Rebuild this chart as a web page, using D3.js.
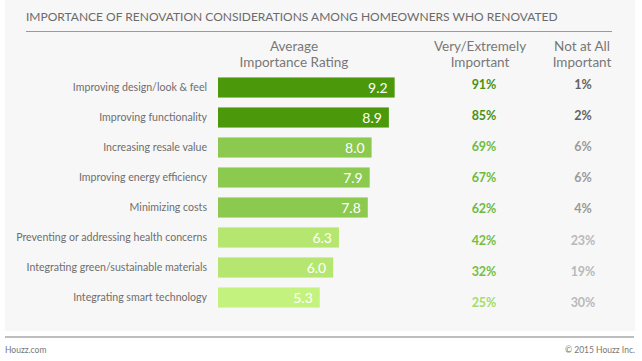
<!DOCTYPE html>
<html>
<head>
<meta charset="utf-8">
<script src="https://cdn.jsdelivr.net/npm/d3@7"></script>
<style>
  body { margin: 0; background: #fff; }
  svg { display: block; font-family: Lato, 'Open Sans', sans-serif; }
</style>
</head>
<body>
<div id="app"></div>
<script>
// data
const categories = [
  'Improving design/look & feel',
  'Improving functionality',
  'Increasing resale value',
  'Improving energy efficiency',
  'Minimizing costs',
  'Preventing or addressing health concerns',
  'Integrating green/sustainable materials',
  'Integrating smart technology',
];
const ratings = [9.2, 8.9, 8.0, 7.9, 7.8, 6.3, 6.0, 5.3];
const veryImportant = [91, 85, 69, 67, 62, 42, 32, 25];
const notImportant = [1, 2, 6, 6, 4, 23, 19, 30];

const title = 'IMPORTANCE OF RENOVATION CONSIDERATIONS AMONG HOMEOWNERS WHO RENOVATED';
const headers = [
  ['Average', 'Importance Rating'],
  ['Very/Extremely', 'Important'],
  ['Not at All', 'Important'],
];

const data = categories.map((c, i) => ({
  category: c,
  rating: ratings[i],
  very: veryImportant[i],
  not: notImportant[i],
}));

// canvas
const width = 642;
const height = 361;

const svg = d3.select('#app')
  .append('svg')
  .attr('width', width)
  .attr('height', height);

svg.append('rect')
  .attr('x', 5).attr('y', 0)
  .attr('width', 630).attr('height', 331)
  .attr('fill', '#f7f7f7');

// title
svg.append('text')
  .attr('x', 26).attr('y', 21)
  .attr('fill', '#6b6b6b')
  .style('font-size', '12px')
  .text(title);

svg.append('line')
  .attr('x1', 26).attr('x2', 612)
  .attr('y1', 31.5).attr('y2', 31.5)
  .attr('stroke', '#9a9a9a').attr('stroke-width', 1.2);

// scales
const xScale = d3.scaleLinear().domain([0, 10]).range([218, 410]);
const yScale = d3.scaleBand()
  .domain(categories)
  .range([72.5, 312.5])
  .paddingInner(0.33)
  .paddingOuter(0.165);
// the percentage columns drift slightly from the bar rows
const pctY = d3.scalePoint().domain(categories).range([84, 302.5]);
const colX = [294, 480, 582];

const barColor = d3.scaleThreshold()
  .domain([5.5, 7, 8.5])
  .range(['#c3f37e', '#b5e66f', '#8bc94f', '#4b990b']);
const veryColor = d3.scaleThreshold()
  .domain([30, 50, 80])
  .range(['#a3dd68', '#72c043', '#6cbb3e', '#4b9014']);
const notColor = d3.scaleThreshold()
  .domain([3, 10])
  .range(['#636363', '#9a9a9a', '#b9b9b9']);

// headers
headers.forEach((lines, i) => {
  const t = svg.append('text')
    .attr('text-anchor', 'middle')
    .attr('fill', '#777')
    .style('font-size', '13.5px');
  lines.forEach((l, j) => {
    t.append('tspan')
      .attr('x', colX[i])
      .attr('y', 51 + j * 15.5)
      .text(l);
  });
});

// category labels
svg.append('g')
  .selectAll('text')
  .data(data)
  .join('text')
  .attr('x', 207)
  .attr('y', (d) => yScale(d.category) + yScale.bandwidth() / 2)
  .attr('dy', '0.35em')
  .attr('text-anchor', 'end')
  .attr('fill', '#6e6e6e')
  .style('font-size', '10.6px')
  .text((d) => d.category);

// bars
const bars = svg.append('g');
bars.selectAll('rect')
  .data(data)
  .join('rect')
  .attr('x', xScale(0))
  .attr('y', (d) => yScale(d.category))
  .attr('width', (d) => xScale(d.rating) - xScale(0))
  .attr('height', yScale.bandwidth())
  .attr('fill', (d) => barColor(d.rating));

bars.selectAll('text')
  .data(data)
  .join('text')
  .attr('x', (d) => xScale(d.rating) - 7)
  .attr('y', (d) => yScale(d.category) + yScale.bandwidth() / 2)
  .attr('dy', '0.36em')
  .attr('text-anchor', 'end')
  .attr('fill', '#fff')
  .style('font-size', '14px')
  .text((d) => d3.format('.1f')(d.rating));

// percentage columns
svg.append('g')
  .selectAll('text')
  .data(data)
  .join('text')
  .attr('x', colX[1] + 4)
  .attr('y', (d) => pctY(d.category))
  .attr('dy', '0.36em')
  .attr('text-anchor', 'middle')
  .attr('fill', (d) => veryColor(d.very))
  .style('font-size', '12.5px')
  .style('font-weight', 'bold')
  .text((d) => `${d.very}%`);

svg.append('g')
  .selectAll('text')
  .data(data)
  .join('text')
  .attr('x', colX[2] + 1)
  .attr('y', (d) => pctY(d.category))
  .attr('dy', '0.36em')
  .attr('text-anchor', 'middle')
  .attr('fill', (d) => notColor(d.not))
  .style('font-size', '12.5px')
  .style('font-weight', 'bold')
  .text((d) => `${d.not}%`);

// footer
svg.append('line')
  .attr('x1', 5).attr('x2', 634)
  .attr('y1', 337).attr('y2', 337)
  .attr('stroke', '#a8a8a8').attr('stroke-width', 1.5);

svg.append('text')
  .attr('x', 5).attr('y', 353)
  .attr('fill', '#777')
  .style('font-size', '8.5px')
  .text('Houzz.com');

svg.append('text')
  .attr('x', 635).attr('y', 353)
  .attr('text-anchor', 'end')
  .attr('fill', '#777')
  .style('font-size', '8.5px')
  .text('© 2015 Houzz Inc.');
</script>
</body>
</html>
